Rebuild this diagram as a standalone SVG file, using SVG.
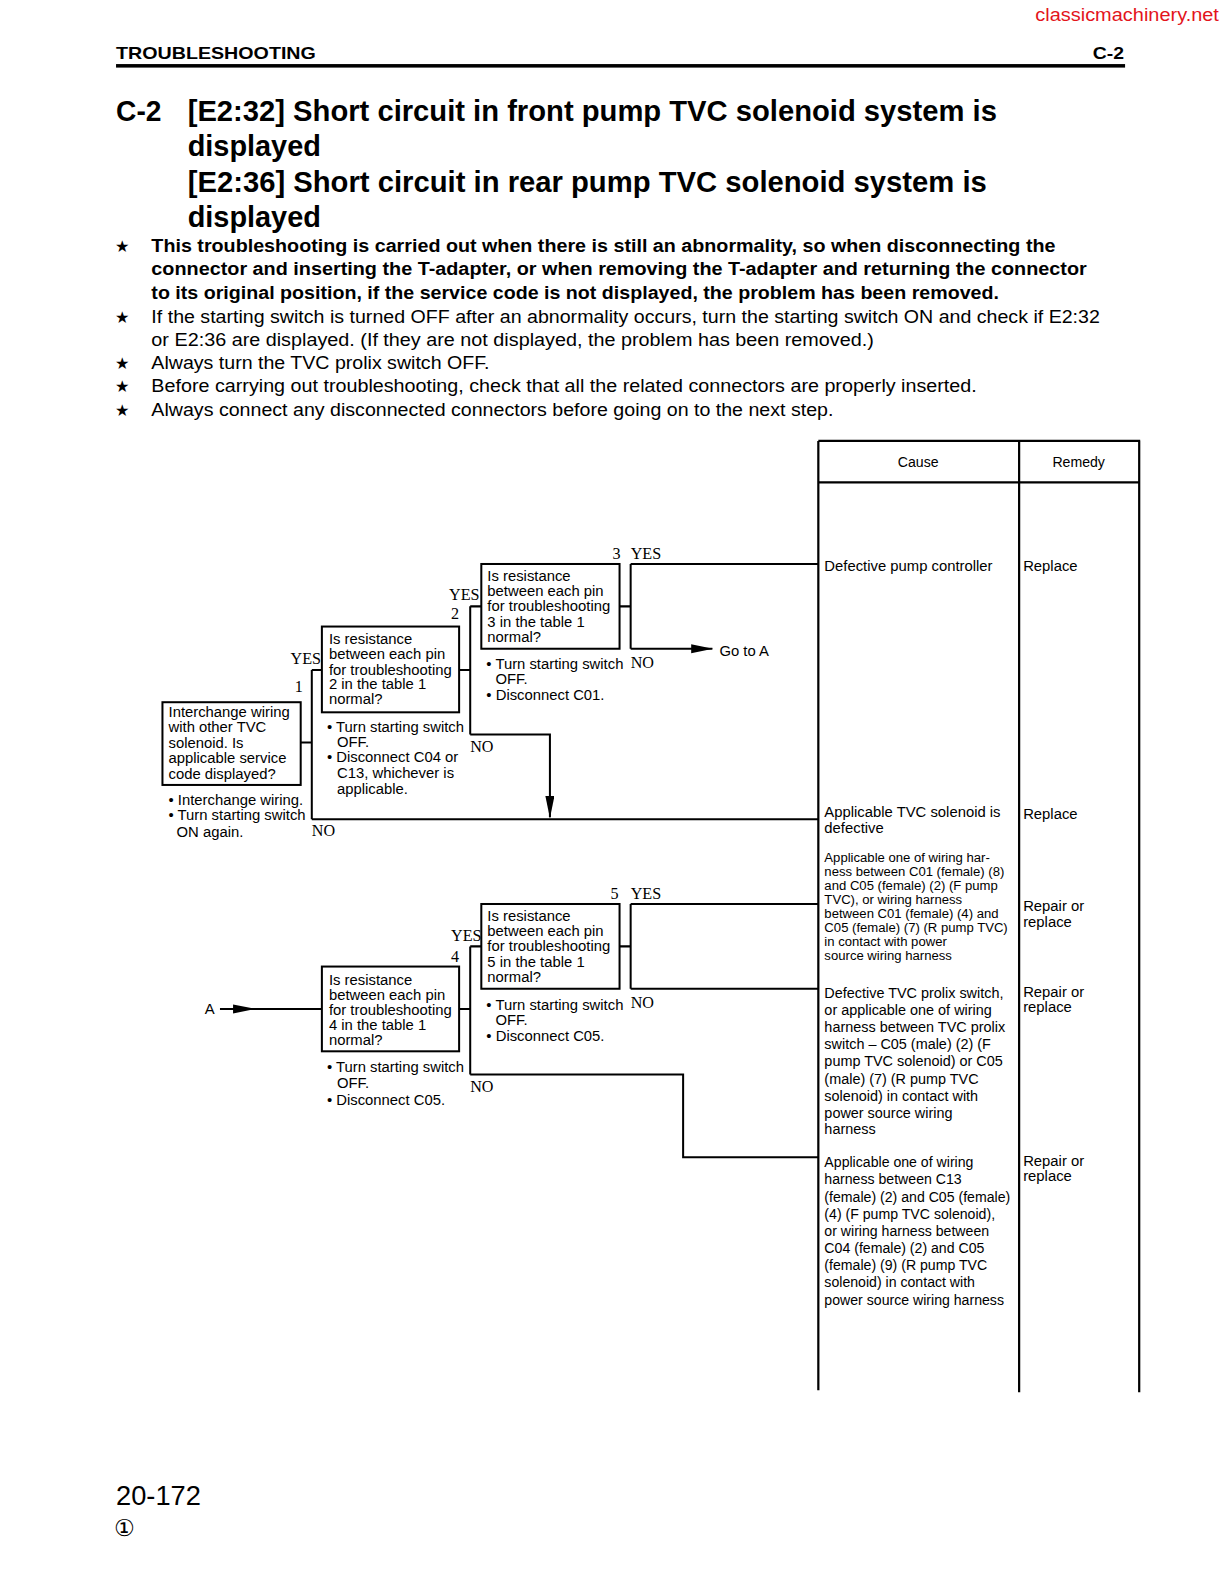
<svg xmlns="http://www.w3.org/2000/svg" width="1228" height="1582" viewBox="0 0 1228 1582">
<style>
.t{font-family:"Liberation Sans",Arial,sans-serif;fill:#000}
.b{font-family:"Liberation Sans",Arial,sans-serif;font-size:14px;fill:#000}
.f{font-family:"Liberation Sans",Arial,sans-serif;font-size:14.7px;fill:#000}
.c{font-family:"Liberation Sans",Arial,sans-serif;font-size:14.3px;fill:#000}
.s{font-family:"Liberation Sans",Arial,sans-serif;font-size:13px;fill:#000}
.y{font-family:"Liberation Serif","Times New Roman",serif;font-size:16px;fill:#000}
.box{fill:#fff;stroke:#000;stroke-width:2}
.ln{fill:none;stroke:#000;stroke-width:2}
.tb{fill:none;stroke:#000;stroke-width:2.2}
.star{font-family:"DejaVu Sans",sans-serif;font-size:16px;fill:#000}
</style>
<defs>
<marker id="ah" markerUnits="userSpaceOnUse" markerWidth="22" markerHeight="10" refX="21" refY="4.5" orient="auto">
<path d="M0,0 L22,4.5 L0,9 z" fill="#000"/>
</marker>
</defs>
<rect width="1228" height="1582" fill="#fff"/>
<g transform="scale(1.00904,1.00893)">
<g id="page-header">
<text class="t" x="1208" y="21" font-size="19" style="fill:#e3141c" text-anchor="end" textLength="182" lengthAdjust="spacingAndGlyphs">classicmachinery.net</text>
<text class="t" x="115" y="58" font-size="17" font-weight="bold" textLength="198" lengthAdjust="spacingAndGlyphs">TROUBLESHOOTING</text>
<text class="t" x="1114" y="58" font-size="17" font-weight="bold" text-anchor="end" textLength="31" lengthAdjust="spacingAndGlyphs">C-2</text>
<rect x="115" y="63.5" width="1000" height="3.5" fill="#000"/>
</g>
<g id="title">
<text class="t" x="115" y="120" font-size="29" font-weight="bold" textLength="45" lengthAdjust="spacingAndGlyphs">C-2</text>
<text class="t" x="186" y="120" font-size="29" font-weight="bold" textLength="802" lengthAdjust="spacingAndGlyphs">[E2:32] Short circuit in front pump TVC solenoid system is</text>
<text class="t" x="186" y="155" font-size="29" font-weight="bold" textLength="132" lengthAdjust="spacingAndGlyphs">displayed</text>
<text class="t" x="186" y="190" font-size="29" font-weight="bold" textLength="792" lengthAdjust="spacingAndGlyphs">[E2:36] Short circuit in rear pump TVC solenoid system is</text>
<text class="t" x="186" y="225" font-size="29" font-weight="bold" textLength="132" lengthAdjust="spacingAndGlyphs">displayed</text>
</g>
<g id="notes">
<text class="star" x="114" y="250">★</text>
<text class="t" x="150" y="250" font-size="19" font-weight="bold" textLength="896" lengthAdjust="spacingAndGlyphs">This troubleshooting is carried out when there is still an abnormality, so when disconnecting the</text>
<text class="t" x="150" y="273" font-size="19" font-weight="bold" textLength="927" lengthAdjust="spacingAndGlyphs">connector and inserting the T-adapter, or when removing the T-adapter and returning the connector</text>
<text class="t" x="150" y="296" font-size="19" font-weight="bold" textLength="840" lengthAdjust="spacingAndGlyphs">to its original position, if the service code is not displayed, the problem has been removed.</text>
<text class="star" x="114" y="320">★</text>
<text class="t" x="150" y="320" font-size="19" textLength="940" lengthAdjust="spacingAndGlyphs">If the starting switch is turned OFF after an abnormality occurs, turn the starting switch ON and check if E2:32</text>
<text class="t" x="150" y="343" font-size="19" textLength="716" lengthAdjust="spacingAndGlyphs">or E2:36 are displayed.  (If they are not displayed, the problem has been removed.)</text>
<text class="star" x="114" y="366">★</text>
<text class="t" x="150" y="366" font-size="19" textLength="335" lengthAdjust="spacingAndGlyphs">Always turn the TVC prolix switch OFF.</text>
<text class="star" x="114" y="389">★</text>
<text class="t" x="150" y="389" font-size="19" textLength="818" lengthAdjust="spacingAndGlyphs">Before carrying out troubleshooting, check that all the related connectors are properly inserted.</text>
<text class="star" x="114" y="412">★</text>
<text class="t" x="150" y="412" font-size="19" textLength="676" lengthAdjust="spacingAndGlyphs">Always connect any disconnected connectors before going on to the next step.</text>
</g>
<g id="connectors">
<path class="ln" d="M298,736 H309 M309,664 V812 M309,664 H319"/>
<path class="ln" d="M309,812 H811"/>
<path class="ln" d="M455,664 H466 M466,601 V728 M466,601 H477"/>
<path class="ln" d="M466,728 H545 V810" marker-end="url(#ah)"/>
<path class="ln" d="M614,601 H625 M625,559 V643 M625,559 H811"/>
<path class="ln" d="M625,643 H706" marker-end="url(#ah)"/>
<path class="ln" d="M218,1000 H252" marker-end="url(#ah)"/>
<path class="ln" d="M250,1000 H319"/>
<path class="ln" d="M455,1000 H466 M466,938 V1065 M466,938 H477"/>
<path class="ln" d="M466,1065 H677 V1147 H811"/>
<path class="ln" d="M614,938 H625 M625,896 V980 M625,896 H811 M625,980 H811"/>
<text class="y" x="288" y="658">YES</text>
<text class="y" x="292" y="686">1</text>
<text class="y" x="309" y="829">NO</text>
<text class="y" x="445" y="595">YES</text>
<text class="y" x="447" y="614">2</text>
<text class="y" x="466" y="745">NO</text>
<text class="y" x="607" y="554">3</text>
<text class="y" x="625" y="554">YES</text>
<text class="y" x="625" y="662">NO</text>
<text class="f" x="713" y="650">Go to A</text>
<text class="f" x="203" y="1005">A</text>
<text class="y" x="447" y="933">YES</text>
<text class="y" x="447" y="953">4</text>
<text class="y" x="466" y="1082">NO</text>
<text class="y" x="605" y="891">5</text>
<text class="y" x="625" y="891">YES</text>
<text class="y" x="625" y="999">NO</text>
</g>
<g id="node1">
<rect class="box" x="161" y="696" width="137" height="82"/>
<text class="f" x="167" y="711">Interchange wiring</text>
<text class="f" x="167" y="726">with other TVC</text>
<text class="f" x="167" y="741">solenoid. Is</text>
<text class="f" x="167" y="756">applicable service</text>
<text class="f" x="167" y="772">code displayed?</text>
<text class="f" x="167" y="798">• Interchange wiring.</text>
<text class="f" x="167" y="813">• Turn starting switch</text>
<text class="f" x="175" y="830">ON again.</text>
</g>
<g id="node2">
<rect class="box" x="319" y="621" width="136" height="85"/>
<text class="f" x="326" y="638">Is resistance</text>
<text class="f" x="326" y="653">between each pin</text>
<text class="f" x="326" y="669">for troubleshooting</text>
<text class="f" x="326" y="683">2 in the table 1</text>
<text class="f" x="326" y="698">normal?</text>
<text class="f" x="324" y="726">• Turn starting switch</text>
<text class="f" x="334" y="740">OFF.</text>
<text class="f" x="324" y="755">• Disconnect C04 or</text>
<text class="f" x="334" y="771">C13, whichever is</text>
<text class="f" x="334" y="787">applicable.</text>
</g>
<g id="node3">
<rect class="box" x="477" y="559" width="137" height="84"/>
<text class="f" x="483" y="576">Is resistance</text>
<text class="f" x="483" y="591">between each pin</text>
<text class="f" x="483" y="606">for troubleshooting</text>
<text class="f" x="483" y="621">3 in the table 1</text>
<text class="f" x="483" y="636">normal?</text>
<text class="f" x="482" y="663">• Turn starting switch</text>
<text class="f" x="491" y="678">OFF.</text>
<text class="f" x="482" y="694">• Disconnect C01.</text>
</g>
<g id="node4">
<rect class="box" x="319" y="958" width="136" height="84"/>
<text class="f" x="326" y="976">Is resistance</text>
<text class="f" x="326" y="991">between each pin</text>
<text class="f" x="326" y="1006">for troubleshooting</text>
<text class="f" x="326" y="1021">4 in the table 1</text>
<text class="f" x="326" y="1036">normal?</text>
<text class="f" x="324" y="1063">• Turn starting switch</text>
<text class="f" x="334" y="1078">OFF.</text>
<text class="f" x="324" y="1095">• Disconnect C05.</text>
</g>
<g id="node5">
<rect class="box" x="477" y="896" width="137" height="84"/>
<text class="f" x="483" y="913">Is resistance</text>
<text class="f" x="483" y="928">between each pin</text>
<text class="f" x="483" y="943">for troubleshooting</text>
<text class="f" x="483" y="958">5 in the table 1</text>
<text class="f" x="483" y="973">normal?</text>
<text class="f" x="482" y="1001">• Turn starting switch</text>
<text class="f" x="491" y="1016">OFF.</text>
<text class="f" x="482" y="1032">• Disconnect C05.</text>
</g>
<g id="table">
<path class="tb" d="M811,437 H1130 M811,478 H1130 M811,437 V1378 M1010,437 V1380 M1129,437 V1380"/>
<text class="b" x="910" y="463" text-anchor="middle">Cause</text>
<text class="b" x="1069" y="463" text-anchor="middle">Remedy</text>
</g>
<g id="cause1">
<text class="f" x="817" y="566">Defective pump controller</text>
<text class="f" x="1014" y="566">Replace</text>
</g>
<g id="cause2">
<text class="f" x="817" y="810">Applicable TVC solenoid is</text>
<text class="f" x="817" y="826">defective</text>
<text class="f" x="1014" y="812">Replace</text>
</g>
<g id="cause3">
<text class="s" x="817" y="854">Applicable one of wiring har-</text>
<text class="s" x="817" y="868">ness between C01 (female) (8)</text>
<text class="s" x="817" y="882">and C05 (female) (2) (F pump</text>
<text class="s" x="817" y="896">TVC), or wiring harness</text>
<text class="s" x="817" y="910">between C01 (female) (4) and</text>
<text class="s" x="817" y="924">C05 (female) (7) (R pump TVC)</text>
<text class="s" x="817" y="938">in contact with power</text>
<text class="s" x="817" y="952">source wiring harness</text>
<text class="f" x="1014" y="903">Repair or</text>
<text class="f" x="1014" y="919">replace</text>
</g>
<g id="cause4">
<text class="c" x="817" y="989">Defective TVC prolix switch,</text>
<text class="c" x="817" y="1006">or applicable one of wiring</text>
<text class="c" x="817" y="1023">harness between TVC prolix</text>
<text class="c" x="817" y="1040">switch – C05 (male) (2) (F</text>
<text class="c" x="817" y="1057">pump TVC solenoid) or C05</text>
<text class="c" x="817" y="1074">(male) (7) (R pump TVC</text>
<text class="c" x="817" y="1091">solenoid) in contact with</text>
<text class="c" x="817" y="1108">power source wiring</text>
<text class="c" x="817" y="1124">harness</text>
<text class="f" x="1014" y="988">Repair or</text>
<text class="f" x="1014" y="1003">replace</text>
</g>
<g id="cause5">
<text class="b" x="817" y="1157">Applicable one of wiring</text>
<text class="b" x="817" y="1174">harness between C13</text>
<text class="b" x="817" y="1191">(female) (2) and C05 (female)</text>
<text class="b" x="817" y="1208">(4) (F pump TVC solenoid),</text>
<text class="b" x="817" y="1225">or wiring harness between</text>
<text class="b" x="817" y="1242">C04 (female) (2) and C05</text>
<text class="b" x="817" y="1259">(female) (9) (R pump TVC</text>
<text class="b" x="817" y="1276">solenoid) in contact with</text>
<text class="b" x="817" y="1293">power source wiring harness</text>
<text class="f" x="1014" y="1156">Repair or</text>
<text class="f" x="1014" y="1171">replace</text>
</g>
<g id="footer">
<text class="t" x="115" y="1492" font-size="27">20-172</text>
<text class="t" x="113" y="1522" font-size="23" style="font-family:'DejaVu Sans','Noto Sans CJK JP',sans-serif">①</text>
</g>
</g>
</svg>
